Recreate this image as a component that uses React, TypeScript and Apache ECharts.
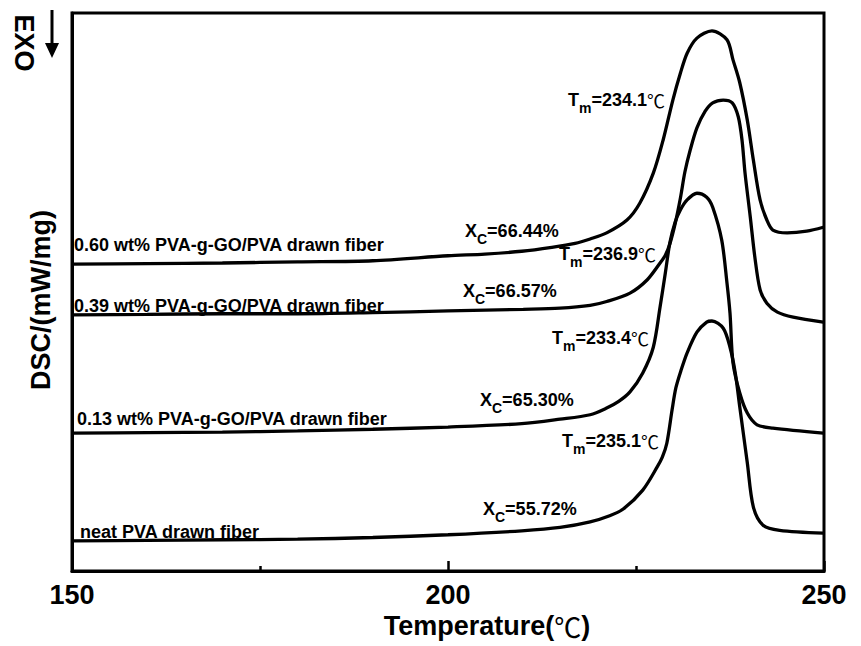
import React, { useEffect, useRef } from "react";
import * as echarts from "echarts";

// ---- data (temperature in ℃, DSC signal in arbitrary units) ----
const xTicks = [150, 200, 250];

const seriesNames = [
  "neat PVA drawn fiber",
  "0.13 wt% PVA-g-GO/PVA drawn fiber",
  "0.39 wt% PVA-g-GO/PVA drawn fiber",
  "0.60 wt% PVA-g-GO/PVA drawn fiber",
];

const tmValues = ["235.1", "233.4", "236.9", "234.1"];
const xcValues = ["55.72%", "65.30%", "66.57%", "66.44%"];

const neatPVA: [number, number][] = [
  [150, 5.4], [160, 5.5], [170, 5.6], [180, 5.7], [190, 6.0], [200, 6.5], [209.8, 7.2],
  [214.9, 7.8], [218.9, 8.8], [221.5, 9.9], [223.3, 11.1], [225.9, 14.5], [227.8, 18.6],
  [228.5, 20.4], [229.1, 22.9], [229.8, 28.9], [230.3, 32.8], [231.0, 36.0], [231.8, 39.1],
  [233.1, 42.8], [234.4, 44.6], [235.1, 44.8], [236.6, 43.5], [237.5, 40.1], [238.2, 35.5],
  [238.8, 29.4], [239.8, 19.4], [240.6, 11.5], [241.9, 8.2], [244.1, 7.3], [249.9, 6.8],
];

const go013: [number, number][] = [
  [150, 24.7], [160, 24.8], [170, 24.9], [180, 25.1], [190, 25.4], [200, 25.8], [209.8, 26.4],
  [214.9, 27.2], [218.9, 28.0], [221.1, 29.2], [222.7, 30.4], [224.2, 32.1], [225.9, 35.5],
  [227.3, 40.1], [228.2, 47.3], [228.9, 53.4], [229.5, 58.8], [230.2, 62.5], [230.9, 64.7],
  [231.8, 66.5], [233.1, 67.7], [234.4, 67.0], [235.2, 65.2], [236.4, 59.3], [237.1, 51.6],
  [237.5, 46.2], [237.9, 37.3], [238.8, 31.9], [239.8, 28.3], [241.1, 26.2], [243.2, 25.6],
  [249.9, 24.7],
];

const go039: [number, number][] = [
  [150, 45.9], [160, 46.0], [170, 46.1], [180, 46.1], [190, 46.3], [200, 46.6], [210, 46.9],
  [214.9, 47.1], [218.9, 47.6], [221.1, 48.3], [224.2, 49.8], [226.5, 52.2], [228.2, 55.2],
  [228.9, 56.6], [229.5, 58.6], [230.2, 62.2], [230.9, 66.8], [231.5, 71.5], [232.2, 75.4],
  [233.1, 79.4], [234.2, 82.4], [235.2, 83.9], [236.6, 84.4], [237.8, 83.9], [238.6, 81.4],
  [239.1, 77.2], [239.5, 71.3], [240.2, 63.4], [240.8, 56.3], [241.5, 50.4], [242.4, 48.0],
  [243.8, 46.4], [245.9, 45.5], [249.9, 44.6],
];

const go060: [number, number][] = [
  [150, 55.0], [160, 55.1], [170, 55.2], [180, 55.4], [190, 55.6], [200, 56.5], [204.9, 56.8],
  [209.8, 57.3], [213.8, 58.0], [216.9, 58.7], [218.9, 59.5], [221.1, 60.6], [223.8, 62.9],
  [225.5, 65.9], [227.3, 71.3], [228.6, 77.2], [229.9, 84.4], [230.9, 89.2], [231.8, 92.8],
  [233.1, 95.5], [235.1, 96.8], [237.1, 95.2], [237.9, 91.6], [238.8, 87.5], [239.8, 80.8],
  [240.6, 73.7], [241.5, 66.5], [242.4, 62.9], [243.2, 61.1], [245.1, 60.6], [247.7, 60.9],
  [249.9, 61.6],
];

const curves = [neatPVA, go013, go039, go060];

// ---- layout of annotations (pixels) ----
const FONT = '"Liberation Sans", Arial, Helvetica, sans-serif';
const CJK = '"Noto Sans CJK SC", "DejaVu Sans", sans-serif';

const nameLabelPos = [
  [80, 532],
  [77, 419],
  [74, 306],
  [74, 245],
];
const tmLabelPos = [
  [562, 443],
  [552, 340],
  [559, 256],
  [568, 102],
];
const xcLabelPos = [
  [483, 511],
  [480, 402],
  [463, 293],
  [465, 233],
];

const richStyles = {
  a: { fontSize: 18, fontWeight: "bold", fontFamily: FONT, color: "#000", lineHeight: 22, verticalAlign: "top" },
  s: { fontSize: 14, fontWeight: "bold", fontFamily: FONT, color: "#000", lineHeight: 16, padding: [10, 0, 0, 0], verticalAlign: "top" },
  d: { fontSize: 18, fontWeight: "normal", fontFamily: CJK, color: "#000", lineHeight: 22, verticalAlign: "top" },
};

export default function App() {
  const ref = useRef<HTMLDivElement>(null);

  useEffect(() => {
    if (!ref.current) return;
    const chart = echarts.init(ref.current, null, { renderer: "svg" });

    const graphics: any[] = [];
    seriesNames.forEach((n, i) => {
      graphics.push({
        type: "text",
        x: nameLabelPos[i][0],
        y: nameLabelPos[i][1],
        style: { text: n, font: `bold 18px ${FONT}`, fill: "#000", align: "left", verticalAlign: "middle" },
      });
      graphics.push({
        type: "text",
        x: tmLabelPos[i][0],
        y: tmLabelPos[i][1] - 11,
        style: {
          text: `{a|T}{s|m}{a|=${tmValues[i]}}{d|℃}`,
          rich: richStyles,
          align: "left",
          verticalAlign: "top",
        },
      });
      graphics.push({
        type: "text",
        x: xcLabelPos[i][0],
        y: xcLabelPos[i][1] - 11,
        style: {
          text: `{a|X}{s|C}{a|=${xcValues[i]}}`,
          rich: richStyles,
          align: "left",
          verticalAlign: "top",
        },
      });
    });

    graphics.push({
      type: "text",
      x: 41,
      y: 300,
      rotation: Math.PI / 2,
      style: { text: "DSC/(mW/mg)", font: `bold 27px ${FONT}`, fill: "#000", align: "center", verticalAlign: "middle" },
    });
    graphics.push({
      type: "text",
      x: 24,
      y: 43,
      rotation: -Math.PI / 2,
      style: { text: "EXO", font: `bold 27px ${FONT}`, fill: "#000", align: "center", verticalAlign: "middle" },
    });
    graphics.push({
      type: "line",
      shape: { x1: 52, y1: 10, x2: 52, y2: 48 },
      style: { stroke: "#000", lineWidth: 3 },
    });
    graphics.push({
      type: "polygon",
      shape: { points: [[45, 43], [59, 43], [52, 58]] },
      style: { fill: "#000" },
    });

    chart.setOption({
      animation: false,
      backgroundColor: "#fff",
      grid: { left: 72, right: 37, top: 13, bottom: 75, show: true, borderColor: "#000", borderWidth: 3, backgroundColor: "transparent" },
      xAxis: {
        type: "value",
        min: xTicks[0],
        max: xTicks[xTicks.length - 1],
        interval: 50,
        axisLine: { show: true, onZero: false, lineStyle: { color: "#000", width: 3 } },
        axisTick: { show: true, inside: true, length: 10, lineStyle: { color: "#000", width: 2.5 } },
        minorTick: { show: true, splitNumber: 2, length: 5, lineStyle: { color: "#000", width: 2.5 } },
        splitLine: { show: false },
        minorSplitLine: { show: false },
        axisLabel: { color: "#000", fontSize: 27, fontWeight: "bold", fontFamily: FONT, margin: 10 },
        name: "Temperature({d|℃})",
        nameLocation: "middle",
        nameGap: 36,
        nameTextStyle: {
          color: "#000",
          fontSize: 27,
          fontWeight: "bold",
          fontFamily: FONT,
          padding: [0, 0, 0, 78],
          rich: { d: { fontSize: 27, fontWeight: "normal", fontFamily: CJK, color: "#000" } },
        },
      },
      yAxis: {
        type: "value",
        min: 0,
        max: 100,
        axisLine: { show: true, lineStyle: { color: "#000", width: 3 } },
        axisTick: { show: false },
        axisLabel: { show: false },
        splitLine: { show: false },
      },
      series: curves.map((d, i) => ({
        name: seriesNames[i],
        type: "line",
        data: d,
        showSymbol: false,
        smooth: 0.3,
        lineStyle: { color: "#000", width: 3.3 },
        z: 3,
      })),
      graphic: graphics,
    });

    return () => chart.dispose();
  }, []);

  return (
    <div
      ref={ref}
      style={{ position: "absolute", left: 0, top: 0, width: 861, height: 646, background: "#fff" }}
    />
  );
}
